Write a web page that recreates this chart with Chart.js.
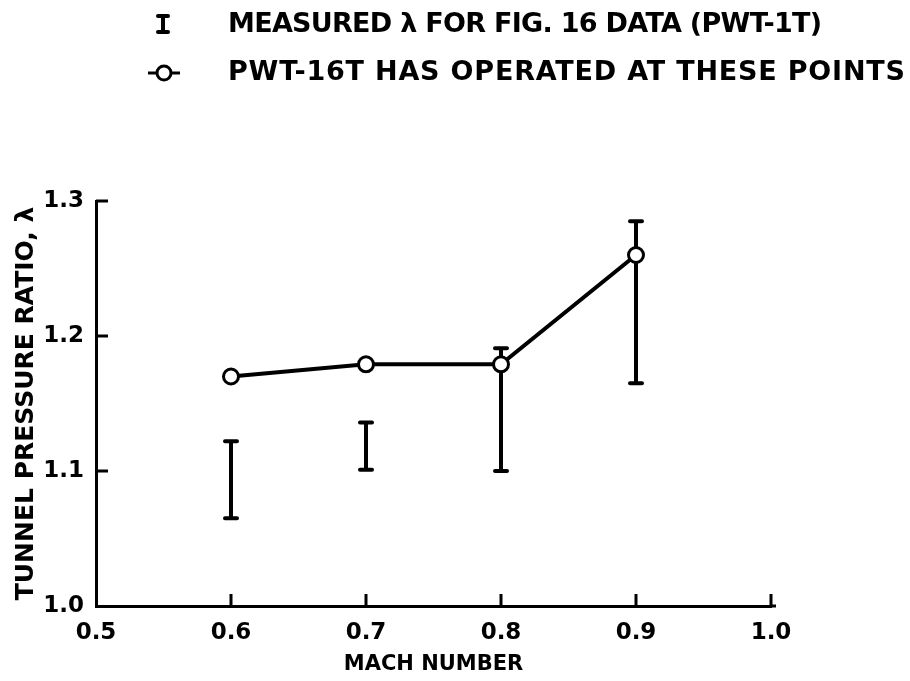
<!DOCTYPE html>
<html>
<head>
<meta charset="utf-8">
<title>Tunnel pressure ratio vs Mach number</title>
<script src="https://cdn.jsdelivr.net/npm/chart.js@4/dist/chart.umd.min.js"></script>
<style>
  html, body { margin: 0; padding: 0; background: #fff; }
  #wrap { width: 910px; height: 681px; }
</style>
</head>
<body>
<div id="wrap"><canvas id="chart" width="910" height="681"></canvas></div>
<script>
// values
const machNumbers = [0.6, 0.7, 0.8, 0.9];
const operatedRatio = [1.17, 1.179, 1.179, 1.26];     // PWT-16T points
const measuredLow = [1.065, 1.101, 1.100, 1.165];     // PWT-1T bars
const measuredHigh = [1.122, 1.136, 1.191, 1.285];
const xTicks = [0.5, 0.6, 0.7, 0.8, 0.9, 1.0];
const yTicks = [1.0, 1.1, 1.2, 1.3];
const legendLabels = [
  'MEASURED \u03bb FOR FIG. 16 DATA (PWT-1T)',
  'PWT-16T HAS OPERATED AT THESE POINTS'
];

const INK = '#000';
const FONT = "'DejaVu Sans', 'Liberation Sans', sans-serif";

// text with letter spacing stretched so it spans a given width
function fitText(ctx, text, x, y, width) {
  ctx.letterSpacing = '0px';
  const w = ctx.measureText(text).width;
  const gap = (width - w) / (text.length - 1);
  ctx.letterSpacing = gap + 'px';
  ctx.fillText(text, x, y);
  ctx.letterSpacing = '0px';
}

function errorBar(ctx, x, yTop, yBot, cap) {
  ctx.beginPath();
  ctx.moveTo(x, yTop);
  ctx.lineTo(x, yBot);
  ctx.moveTo(x - cap, yTop);
  ctx.lineTo(x + cap, yTop);
  ctx.moveTo(x - cap, yBot);
  ctx.lineTo(x + cap, yBot);
  ctx.stroke();
}

const errorBars = {
  id: 'errorBars',
  beforeDatasetsDraw(chart) {
    const { ctx, scales: { x, y } } = chart;
    ctx.save();
    ctx.strokeStyle = INK;
    ctx.lineWidth = 4;
    ctx.lineCap = 'round';
    machNumbers.forEach((m, i) => {
      errorBar(ctx, x.getPixelForValue(m), y.getPixelForValue(measuredHigh[i]),
        y.getPixelForValue(measuredLow[i]), 6);
    });
    ctx.restore();
  }
};

// inward tick marks and the legend at the top
const decorations = {
  id: 'decorations',
  afterDraw(chart) {
    const { ctx, chartArea: a, scales: { x, y } } = chart;
    ctx.save();
    ctx.strokeStyle = INK;
    ctx.lineWidth = 3;
    ctx.beginPath();
    yTicks.slice(1).forEach(v => {
      const py = y.getPixelForValue(v);
      ctx.moveTo(a.left, py);
      ctx.lineTo(a.left + 12, py);
    });
    xTicks.slice(1).forEach(v => {
      const px = x.getPixelForValue(v);
      ctx.moveTo(px, a.bottom);
      ctx.lineTo(px, a.bottom - 12);
    });
    ctx.moveTo(a.right, a.bottom);
    ctx.lineTo(a.right + 5, a.bottom);
    ctx.stroke();

    // legend symbols
    ctx.lineWidth = 4;
    ctx.lineCap = 'round';
    errorBar(ctx, 163, 16, 32, 5);
    ctx.lineWidth = 3;
    ctx.lineCap = 'butt';
    ctx.beginPath();
    ctx.moveTo(148, 73);
    ctx.lineTo(180, 73);
    ctx.stroke();
    ctx.beginPath();
    ctx.arc(164, 73, 7, 0, Math.PI * 2);
    ctx.fillStyle = '#fff';
    ctx.fill();
    ctx.stroke();

    ctx.fillStyle = INK;
    ctx.font = 'bold 27px ' + FONT;
    ctx.textBaseline = 'middle';
    fitText(ctx, legendLabels[0], 228, 25, 594);
    fitText(ctx, legendLabels[1], 228, 73, 677);
    ctx.restore();
  }
};

new Chart(document.getElementById('chart'), {
  type: 'scatter',
  data: {
    datasets: [{
      label: 'PWT-16T',
      data: machNumbers.map((m, i) => ({ x: m, y: operatedRatio[i] })),
      showLine: true,
      tension: 0,
      borderColor: INK,
      borderWidth: 4,
      pointRadius: 7.5,
      pointBorderWidth: 3,
      pointBackgroundColor: '#fff',
      pointBorderColor: INK
    }]
  },
  options: {
    responsive: false,
    animation: false,
    layout: { padding: { top: 201, right: 139, left: 0, bottom: 0 } },
    plugins: { legend: { display: false }, tooltip: { enabled: false } },
    scales: {
      x: {
        type: 'linear',
        min: 0.5,
        max: 1.0,
        afterBuildTicks: s => { s.ticks = xTicks.map(v => ({ value: v })); },
        afterFit: s => { s.height = 75; },
        grid: { display: true, drawOnChartArea: false, drawTicks: false },
        border: { color: INK, width: 3 },
        ticks: {
          color: INK,
          padding: 13,
          font: { family: FONT, size: 23, weight: 'bold' },
          callback: v => v.toFixed(1)
        },
        title: {
          display: true,
          text: 'MACH NUMBER',
          color: INK,
          padding: { top: 0, bottom: 4 },
          font: { family: FONT, size: 21, weight: 'bold' }
        }
      },
      y: {
        type: 'linear',
        min: 1.0,
        max: 1.3,
        afterBuildTicks: s => { s.ticks = yTicks.map(v => ({ value: v })); },
        afterFit: s => { s.width = 96; },
        grid: { display: true, drawOnChartArea: false, drawTicks: false },
        border: { color: INK, width: 3 },
        ticks: {
          color: INK,
          padding: 12,
          font: { family: FONT, size: 23, weight: 'bold' },
          callback: v => v.toFixed(1)
        },
        title: {
          display: true,
          text: 'TUNNEL PRESSURE RATIO, \u03bb',
          color: INK,
          padding: { top: 11, bottom: 0 },
          font: { family: FONT, size: 25, weight: 'bold' }
        }
      }
    }
  },
  plugins: [errorBars, decorations]
});
</script>
</body>
</html>
